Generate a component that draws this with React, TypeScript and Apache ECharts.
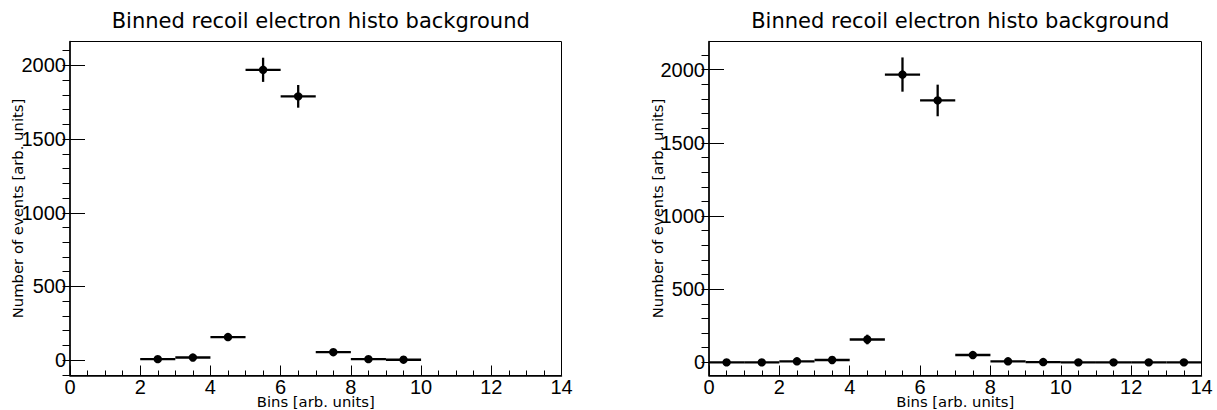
import React, { useEffect, useRef } from "react";
import * as echarts from "echarts";

const titleText = "Binned recoil electron histo background";
const xAxisName = "Bins [arb. units]";
const yAxisName = "Number of events [arb. units]";

const leftBins = [2.5, 3.5, 4.5, 5.5, 6.5, 7.5, 8.5, 9.5];
const leftCounts = [7, 18, 157, 1970, 1790, 54, 7, 3];
const leftErrors = [5, 8, 23, 82, 77, 13, 5, 3];

const rightBins = [0.5, 1.5, 2.5, 3.5, 4.5, 5.5, 6.5, 7.5, 8.5, 9.5, 10.5, 11.5, 12.5, 13.5];
const rightCounts = [0, 0, 7, 16, 156, 1967, 1790, 50, 7, 2, 0, 0, 0, 0];
const rightErrors = [0, 0, 7, 11, 33, 117, 108, 19, 7, 3, 0, 0, 0, 0];

const binHalfWidth = 0.5;
const xMin = 0;
const xMax = 14;
const xInterval = 2;
const leftYRange = [-104, 2162];
const rightYRange = [-90, 2193];
const yMajorTicks = [0, 500, 1000, 1500, 2000];
const yMinorTicks = [-100, 0, 100, 200, 300, 400, 500, 600, 700, 800, 900, 1000, 1100, 1200, 1300, 1400, 1500, 1600, 1700, 1800, 1900, 2000, 2100];

const TICK_FONT = "Liberation Sans";
const TEXT_FONT = "DejaVu Sans";

const grids = [
  { left: 70, top: 41.5, width: 491.5, height: 334 },
  { left: 709, top: 41.5, width: 492.5, height: 334 },
];

function renderErrorPoint(params: any, api: any) {
  const x = api.value(0);
  const y = api.value(1);
  const e = api.value(2);
  const pL = api.coord([x - binHalfWidth, y]);
  const pR = api.coord([x + binHalfWidth, y]);
  const pT = api.coord([x, y + e]);
  const pB = api.coord([x, y - e]);
  const c = api.coord([x, y]);
  const stroke = { stroke: "#000", lineWidth: 2.3 };
  return {
    type: "group",
    children: [
      { type: "line", shape: { x1: pL[0], y1: pL[1], x2: pR[0], y2: pR[1] }, style: stroke },
      { type: "line", shape: { x1: pT[0], y1: pT[1], x2: pB[0], y2: pB[1] }, style: stroke },
      { type: "circle", shape: { cx: c[0], cy: c[1], r: 4.2 }, style: { fill: "#000" } },
    ],
  };
}

const plainNumber = (v: number) => String(v);

function makeXAxis(gridIndex: number) {
  return {
    type: "value",
    gridIndex,
    min: xMin,
    max: xMax,
    interval: xInterval,
    name: xAxisName,
    nameLocation: "middle",
    nameGap: 20,
    nameMoveOverlap: false,
    nameTextStyle: { fontFamily: TEXT_FONT, fontSize: 14.8, lineHeight: 11, color: "#000" },
    axisLine: { show: true, onZero: false, lineStyle: { color: "#000", width: 1.5 } },
    axisTick: { show: true, inside: true, length: 10, lineStyle: { color: "#000", width: 1 } },
    minorTick: { show: true, splitNumber: 4, length: 5, lineStyle: { color: "#000", width: 1 } },
    axisLabel: { margin: 4, fontFamily: TICK_FONT, fontSize: 20, lineHeight: 14, color: "#000", formatter: plainNumber },
    splitLine: { show: false },
  };
}

function makeYAxes(gridIndex: number, range: number[], nameGap: number) {
  return [
    {
      type: "value",
      gridIndex,
      min: range[0],
      max: range[1],
      name: yAxisName,
      nameLocation: "middle",
      nameGap,
      nameMoveOverlap: false,
      nameTextStyle: { fontFamily: TEXT_FONT, fontSize: 14.8, color: "#000" },
      axisLine: { show: true, onZero: false, lineStyle: { color: "#000", width: 1.5 } },
      axisTick: { show: true, inside: true, length: 15, customValues: yMajorTicks, lineStyle: { color: "#000", width: 1 } },
      axisLabel: { margin: 4, customValues: yMajorTicks, fontFamily: TICK_FONT, fontSize: 20, color: "#000", formatter: plainNumber },
      splitLine: { show: false },
    },
    {
      type: "value",
      gridIndex,
      min: range[0],
      max: range[1],
      axisLine: { show: false },
      axisTick: { show: true, inside: true, length: 7.5, customValues: yMinorTicks, lineStyle: { color: "#000", width: 1 } },
      axisLabel: { show: false },
      splitLine: { show: false },
    },
  ];
}

export default function App() {
  const ref = useRef<HTMLDivElement>(null);

  useEffect(() => {
    if (!ref.current) return;
    const chart = echarts.init(ref.current, null, { renderer: "svg" });
    const leftData = leftBins.map((b, i) => [b, leftCounts[i], leftErrors[i]]);
    const rightData = rightBins.map((b, i) => [b, rightCounts[i], rightErrors[i]]);
    chart.setOption({
      animation: false,
      backgroundColor: "#fff",
      title: grids.map((g) => ({
        text: titleText,
        left: g.left + g.width / 2,
        textAlign: "center",
        top: 5,
        textStyle: { fontFamily: TEXT_FONT, fontSize: 21, fontWeight: "normal", color: "#000" },
      })),
      grid: grids.map((g) => ({
        ...g,
        show: true,
        borderColor: "#000",
        borderWidth: 1,
        backgroundColor: "transparent",
        containLabel: false,
        outerBoundsMode: "none",
      })),
      xAxis: [makeXAxis(0), makeXAxis(1)],
      yAxis: [...makeYAxes(0, leftYRange, 45), ...makeYAxes(1, rightYRange, 44)],
      series: [
        { type: "custom", xAxisIndex: 0, yAxisIndex: 0, renderItem: renderErrorPoint, data: leftData },
        { type: "custom", xAxisIndex: 1, yAxisIndex: 2, renderItem: renderErrorPoint, data: rightData },
      ],
    });
    return () => chart.dispose();
  }, []);

  return <div ref={ref} style={{ position: "fixed", left: 0, top: 0, width: 1217, height: 410 }} />;
}
